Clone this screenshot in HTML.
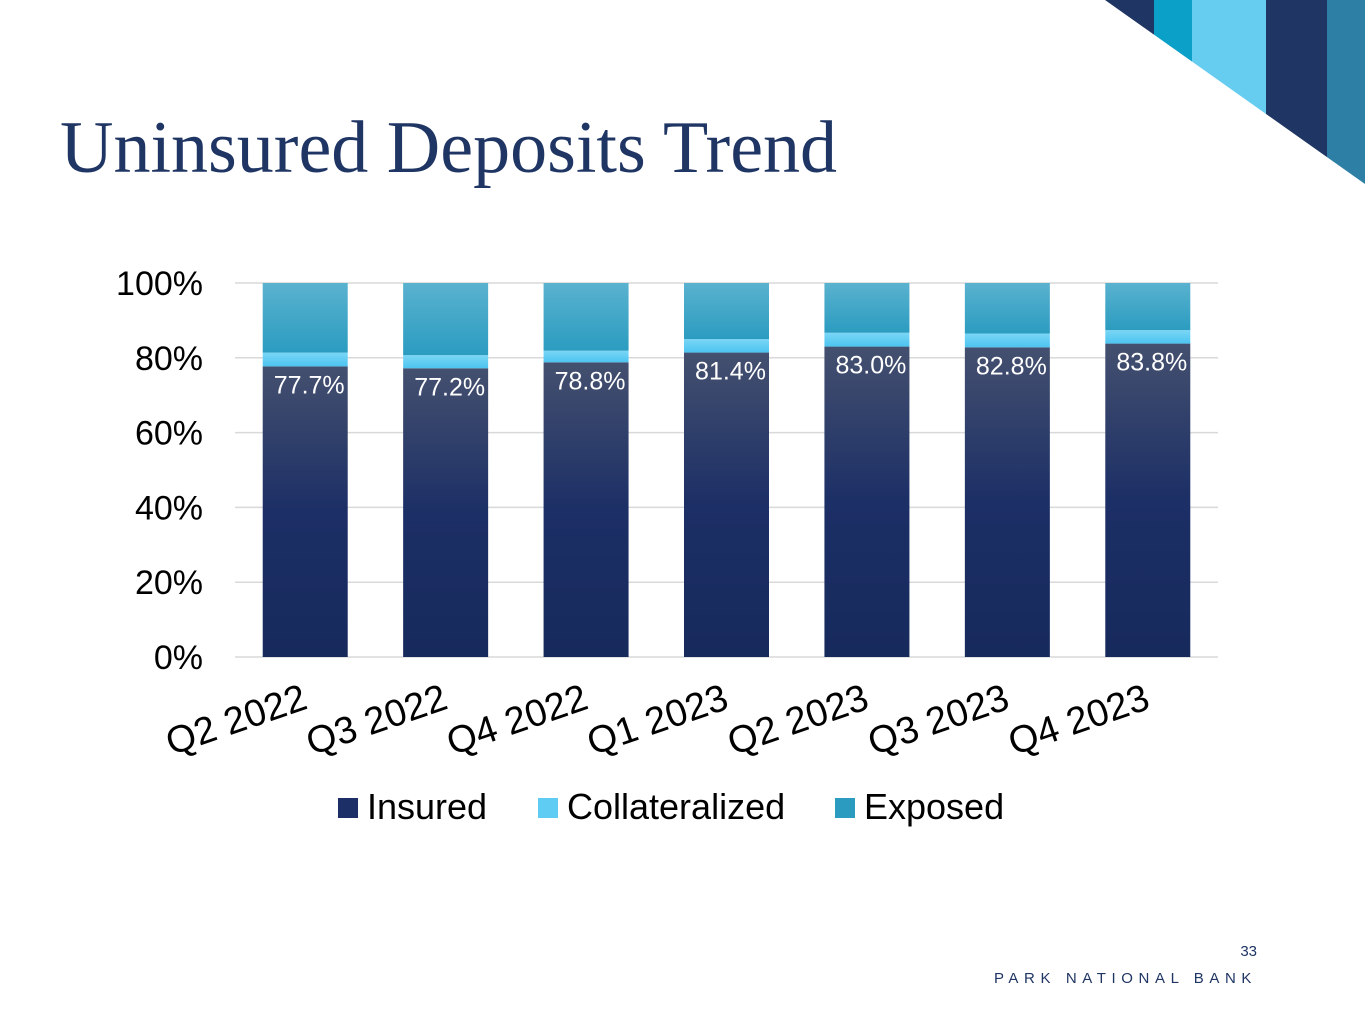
<!DOCTYPE html>
<html><head><meta charset="utf-8"><style>
body{margin:0;width:1365px;height:1024px;background:#fff;overflow:hidden;position:relative;font-family:"Liberation Sans",sans-serif}
#title{position:absolute;left:60px;top:106px;font-family:"Liberation Serif",serif;font-size:74px;color:#1f3563;margin:0;font-weight:normal;white-space:nowrap}
#pg{position:absolute;right:108px;top:943px;font-size:15px;color:#1f3563}
#brand{position:absolute;right:108px;top:970px;font-size:15px;letter-spacing:5.6px;color:#1f3563}
</style></head><body>
<svg width="1365" height="200" style="position:absolute;left:0;top:0">
<defs><clipPath id="tri"><polygon points="1105,0 1365,0 1365,184"/></clipPath></defs>
<g clip-path="url(#tri)">
<rect x="1100" y="0" width="54" height="200" fill="#1f3563"/>
<rect x="1154" y="0" width="38" height="200" fill="#0aa0c8"/>
<rect x="1192" y="0" width="74" height="200" fill="#66ccf0"/>
<rect x="1266" y="0" width="61" height="200" fill="#1f3563"/>
<rect x="1327" y="0" width="38" height="200" fill="#2e7fa6"/>
</g></svg>
<h1 id="title">Uninsured Deposits Trend</h1>
<svg id="chart" width="1365" height="900" style="position:absolute;left:0;top:0">
<defs>
<linearGradient id="gIns" x1="0" y1="0" x2="0" y2="1"><stop offset="0" stop-color="#44506f"/><stop offset="0.5" stop-color="#1c2f66"/><stop offset="1" stop-color="#172a5c"/></linearGradient>
<linearGradient id="gCol" x1="0" y1="0" x2="0" y2="1"><stop offset="0" stop-color="#7ad6f6"/><stop offset="1" stop-color="#4cc4f0"/></linearGradient>
<linearGradient id="gExp" x1="0" y1="0" x2="0" y2="1"><stop offset="0" stop-color="#5ab2cf"/><stop offset="1" stop-color="#2b9cc0"/></linearGradient>
</defs>
</svg>
<div id="pg">33</div>
<div id="brand">PARK NATIONAL BANK</div>
<script>
const categories=["Q2 2022","Q3 2022","Q4 2022","Q1 2023","Q2 2023","Q3 2023","Q4 2023"];
const insured=[77.7,77.2,78.8,81.4,83.0,82.8,83.8];
const collateralized=[3.7,3.5,3.1,3.6,3.7,3.7,3.6];
const yTicks=[0,20,40,60,80,100];
const NS="http://www.w3.org/2000/svg";
const svg=document.getElementById('chart');
const x0=235,x1=1218,y0=657,y1=283;
const y=v=>y0-(v/100)*(y0-y1);
const band=(x1-x0)/categories.length;
const xc=i=>x0+band*(i+0.5);
const bw=85;
function mk(t,a){const e=document.createElementNS(NS,t);for(const k in a)e.setAttribute(k,a[k]);svg.appendChild(e);return e;}
yTicks.forEach(t=>{
 const l=mk('line',{x1:x0,x2:x1,y1:y(t),y2:y(t),stroke:'#d9d9d9','stroke-width':1.5});
 
 
 const tx=mk('text',{x:203,y:y(t)+12,'text-anchor':'end','font-size':34,fill:'#000','font-family':'Liberation Sans, sans-serif'});
 tx.textContent=t+'%';
 
 
});
categories.forEach((c,i)=>{
 const cx=xc(i),xl=cx-bw/2;
 const ins=insured[i],col=collateralized[i];
 const r1=mk('rect',{x:xl,y:y(ins),width:bw,height:y(0)-y(ins),fill:'url(#gIns)'});
 
 
 const r2=mk('rect',{x:xl,y:y(ins+col),width:bw,height:y(ins)-y(ins+col),fill:'url(#gCol)'});
 
 
 const r3=mk('rect',{x:xl,y:y(100),width:bw,height:y(ins+col)-y(100),fill:'url(#gExp)'});
 
 
 const lb=mk('text',{x:cx+4,y:y(ins)+27,'text-anchor':'middle','font-size':25,fill:'#fff','font-family':'Liberation Sans, sans-serif'});
 lb.textContent=ins.toFixed(1)+'%';
 
 
 const ax=cx+4,ay=708;
 const xt=mk('text',{x:ax,y:ay,'text-anchor':'end','font-size':38,fill:'#000','font-family':'Liberation Sans, sans-serif',transform:`rotate(-19 ${ax} ${ay})`});
 xt.textContent=c;
 
 
});
const legend=[["Insured","#1c2f66",338],["Collateralized","#5fcdf3",538],["Exposed","#2b9cc0",835]];
legend.forEach(([n,c,lx])=>{
 const s=mk('rect',{x:lx,y:798,width:20,height:20,fill:c});
 
 
 const t=mk('text',{x:lx+29,y:819,'font-size':36,fill:'#000','font-family':'Liberation Sans, sans-serif'});
 t.textContent=n;
 
 
});
</script>
</body></html>
